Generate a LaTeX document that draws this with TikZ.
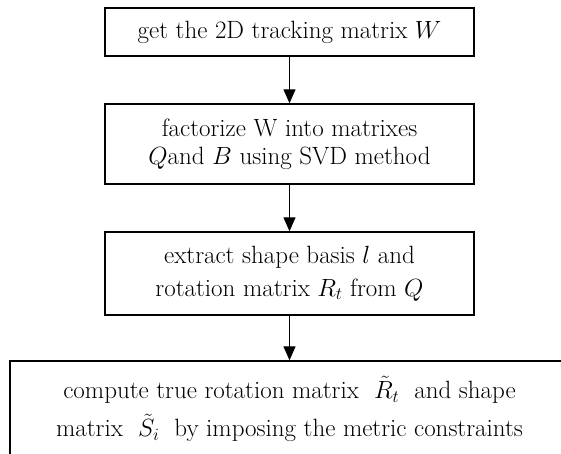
\documentclass[tikz,border=0pt]{standalone}
\usetikzlibrary{arrows.meta}
\begin{document}
\begin{tikzpicture}[x=1pt,y=-1pt,
  stepbox/.style={draw, line width=1.4pt, align=center, inner sep=0pt,
    font=\fontsize{25}{28}\selectfont},
  arr/.style={line width=1.3pt, -{Triangle[length=14pt,width=12pt]}}]
\useasboundingbox (0,0) rectangle (561,454);
\clip (0,0) rectangle (561,454);
\node[stepbox, minimum width=369pt, minimum height=48pt] (b1) at (289.5,32)
  {get the 2D tracking matrix $W$};
\node[stepbox, minimum width=369pt, minimum height=80pt] (b2) at (289.5,144)
  {factorize W into matrixes\\ $Q$and $B$ using SVD method};
\node[stepbox, minimum width=369pt, minimum height=83pt] (b3) at (289.5,273.5)
  {extract shape basis $l$ and\\[5pt] rotation matrix $R_t$ from $Q$};
\node[stepbox, minimum width=559pt, minimum height=96pt] (b4) at (289.5,409)
  {compute true rotation matrix \ $\tilde{R}_t$ \ and shape\\[10pt]
   matrix \ $\tilde{S}_i$ \ by imposing the metric constraints};
\draw[arr] (b1) -- (b2);
\draw[arr] (b2) -- (b3);
\draw[arr] (b3) -- (b4);
\end{tikzpicture}
\end{document}
